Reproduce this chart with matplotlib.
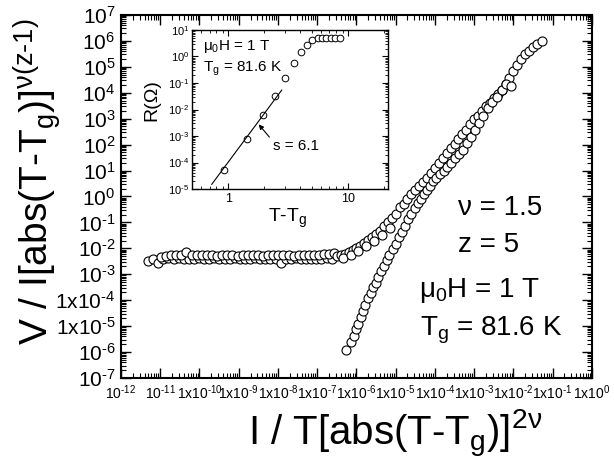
import matplotlib

matplotlib.use("Agg")
import matplotlib.pyplot as plt
import numpy as np
from matplotlib.ticker import FixedLocator, FixedFormatter, LogLocator, NullFormatter

plt.rcParams["font.family"] = "Liberation Sans"
plt.rcParams["mathtext.fontset"] = "custom"
plt.rcParams["mathtext.rm"] = "Liberation Sans"
plt.rcParams["mathtext.it"] = "Liberation Sans:italic"
plt.rcParams["mathtext.bf"] = "Liberation Sans:bold"

# ---------------------------------------------------------------------------
# Data (log10 values)
# ---------------------------------------------------------------------------
# flat part, lower row
flat_a_x = [-11.31, -11.18, -11.05, -10.92, -10.79, -10.66, -10.53, -10.40, -10.27,
            -10.14, -10.01, -9.88, -9.75, -9.62, -9.49, -9.36, -9.23, -9.10, -8.97,
            -8.84, -8.71, -8.58, -8.45, -8.32, -8.19, -8.06, -7.93, -7.80, -7.67,
            -7.54, -7.41, -7.28, -7.15, -7.02, -6.89, -6.76, -6.63]
flat_a_y = [-2.47, -2.43, -2.55, -2.40, -2.38, -2.41, -2.39, -2.40, -2.42, -2.40,
            -2.39, -2.41, -2.40, -2.38, -2.41, -2.40, -2.42, -2.39, -2.40, -2.41,
            -2.40, -2.39, -2.41, -2.40, -2.42, -2.40, -2.55, -2.41, -2.40, -2.39,
            -2.41, -2.40, -2.40, -2.41, -2.40, -2.39, -2.40]
# flat part, upper row
flat_b_x = [-10.98, -10.85, -10.72, -10.59, -10.46, -10.33, -10.20, -10.07, -9.94,
            -9.81, -9.68, -9.55, -9.42, -9.29, -9.16, -9.03, -8.90, -8.77, -8.64,
            -8.51, -8.38, -8.25, -8.12, -7.99, -7.86, -7.73, -7.60, -7.47, -7.34,
            -7.21, -7.08, -6.95, -6.82, -6.69, -6.56]
flat_b_y = [-2.32, -2.28, -2.25, -2.27, -2.24, -2.15, -2.26, -2.27, -2.25, -2.27,
            -2.26, -2.28, -2.27, -2.26, -2.27, -2.28, -2.27, -2.26, -2.27, -2.27,
            -2.28, -2.26, -2.27, -2.27, -2.26, -2.27, -2.28, -2.26, -2.27, -2.26,
            -2.25, -2.24, -2.22, -2.21, -2.19]
# rising part of the upper branch
rise_x = [-6.50, -6.40, -6.30, -6.20, -6.10, -6.00, -5.90, -5.80, -5.70, -5.60,
          -5.50, -5.40, -5.30, -5.20, -5.10, -5.00, -4.90, -4.80, -4.70, -4.60,
          -4.50, -4.40, -4.30, -4.20, -4.10, -4.00, -3.90, -3.80, -3.70, -3.60,
          -3.50, -3.40, -3.30, -3.20, -3.10, -3.00, -2.90, -2.80, -2.70, -2.60,
          -2.50, -2.40, -2.30, -2.20, -2.10, -2.00, -1.90, -1.80, -1.70, -1.60,
          -1.50, -1.40, -1.28,
          -6.35, -6.15, -5.95, -5.75, -5.55, -5.35, -5.15]
rise_y = [-2.30, -2.25, -2.20, -2.14, -2.06, -1.98, -1.90, -1.80, -1.68, -1.56,
          -1.44, -1.32, -1.15, -0.98, -0.82, -0.68, -0.42, -0.30, -0.10, 0.08,
          0.25, 0.42, 0.55, 0.72, 0.90, 1.08, 1.30, 1.50, 1.68, 1.85,
          2.02, 2.20, 2.40, 2.58, 2.78, 2.98, 3.12, 3.28, 3.48, 3.62,
          3.78, 3.95, 4.12, 4.35, 4.58, 4.85, 5.08, 5.28, 5.48, 5.62,
          5.76, 5.88, 6.00,
          -2.36, -2.25, -2.10, -1.92, -1.72, -1.50, -1.22]
# lower branch
low_x = [-6.27, -6.13, -6.06, -6.00, -5.95, -5.89, -5.83, -5.77, -5.71, -5.64,
         -5.57, -5.51, -5.44, -5.37, -5.30, -5.23, -5.16, -5.08, -5.00, -4.92,
         -4.84, -4.76, -4.68, -4.60, -4.52, -4.44, -4.36, -4.28, -4.20, -4.12,
         -4.04, -3.96, -3.87, -3.78, -3.68, -3.58, -3.48, -3.38, -3.28, -3.18,
         -3.08, -2.98, -2.88, -2.78, -2.66, -2.54, -2.42, -2.30, -2.18, -2.05]
low_y = [-5.90, -5.62, -5.38, -5.10, -4.90, -4.66, -4.40, -4.18, -3.92, -3.72,
         -3.50, -3.35, -3.10, -2.88, -2.68, -2.45, -2.25, -2.02, -1.82, -1.58,
         -1.36, -1.12, -0.88, -0.66, -0.45, -0.25, -0.08, 0.08, 0.25, 0.42,
         0.60, 0.72, 0.85, 0.98, 1.12, 1.30, 1.48, 1.65, 1.80, 2.05,
         2.30, 2.55, 2.85, 3.10, 3.40, 3.65, 3.85, 4.10, 4.35, 4.24]

# inset: R vs T-Tg
inset_dt = [0.93, 1.43, 1.95, 2.46, 3.0, 3.53, 4.06, 4.58, 5.0, 5.6, 6.07, 6.6, 7.2, 7.8, 8.5]
inset_r = [5.2e-5, 7.6e-4, 6.0e-3, 3.2e-2, 0.16, 0.57, 1.43, 2.77, 4.2, 4.8, 4.95,
           5.0, 5.0, 5.0, 5.0]
fit_dt = [0.73, 2.8]
fit_r = [1.5e-5, 5.4e-2]

x_exps = list(range(-12, 1))
x_labels = [r"$\text{10}^{\text{-12}}$", r"$\text{10}^{\text{-11}}$"] + \
    [r"$\text{1x10}^{\text{%d}}$" % e if e >= 0 else r"$\text{1x10}^{\text{-%d}}$" % -e
     for e in range(-10, 1)]
y_exps = list(range(-7, 8))
y_labels = []
for e in y_exps:
    s = ("-%d" % -e) if e < 0 else "%d" % e
    pre = "1x10" if e in (-4, -5) else "10"
    y_labels.append(r"$\text{%s}^{\text{%s}}$" % (pre, s))

inset_y_exps = list(range(-5, 2))
inset_y_labels = [r"$\text{10}^{\text{%s}}$" % (("-%d" % -e) if e < 0 else "%d" % e)
                  for e in inset_y_exps]

# ---------------------------------------------------------------------------
fig = plt.figure(figsize=(6.14, 4.65), dpi=100)
ax = fig.add_axes([0.197, 0.187, 0.767, 0.781])

mk = dict(ls="none", marker="o", ms=6.5, mfc="white", mec="black", mew=0.8)
for xs, ys in [(flat_a_x, flat_a_y), (flat_b_x, flat_b_y), (rise_x, rise_y), (low_x, low_y)]:
    ax.plot(10.0 ** np.array(xs), 10.0 ** np.array(ys), **mk)

ax.set_xscale("log")
ax.set_yscale("log")
ax.set_xlim(1e-12, 1)
ax.set_ylim(1e-7, 1e7)
ax.xaxis.set_major_locator(FixedLocator([10.0 ** e for e in x_exps]))
ax.xaxis.set_major_formatter(FixedFormatter(x_labels))
ax.yaxis.set_major_locator(FixedLocator([10.0 ** e for e in y_exps]))
ax.yaxis.set_major_formatter(FixedFormatter(y_labels))
for a in (ax.xaxis, ax.yaxis):
    a.set_minor_locator(LogLocator(base=10, subs=np.arange(2, 10), numticks=40))
    a.set_minor_formatter(NullFormatter())
ax.tick_params(which="both", direction="in", top=True, right=True)
ax.tick_params(which="major", length=7, width=1)
ax.tick_params(which="minor", length=3.5, width=0.8)
ax.tick_params(axis="x", which="major", labelsize=10, pad=4)
ax.tick_params(axis="y", which="major", labelsize=15, pad=4)
for sp in ax.spines.values():
    sp.set_linewidth(1.5)

ax.text(0.7155, 0.449, r"ν = 1.5", transform=ax.transAxes, fontsize=20, va="baseline")
ax.text(0.7155, 0.348, r"z = 5", transform=ax.transAxes, fontsize=20, va="baseline")
ax.text(0.633, 0.224, r"$\text{μ}_{\text{0}}\text{H = 1 T}$", transform=ax.transAxes,
        fontsize=20, va="baseline")
ax.text(0.635, 0.118, r"$\text{T}_{\text{g}}\text{ = 81.6 K}$", transform=ax.transAxes,
        fontsize=20, va="baseline")

fig.text(0.06, 0.61, r"$\text{V / I[abs(T-T}_{\text{g}}\text{)]}^{\text{ν(z-1)}}$",
         rotation=90, ha="center", va="center", fontsize=28)
fig.text(0.643, 0.042, r"$\text{I / T[abs(T-T}_{\text{g}}\text{)]}^{\text{2ν}}$",
         ha="center", va="baseline", fontsize=29)

# ---------------------------------------------------------------------------
# inset
ins = fig.add_axes([0.3127, 0.5935, 0.319, 0.342])
ins.set_facecolor("white")
ins.plot(inset_dt, inset_r, ls="none", marker="o", ms=4.8, mfc="white", mec="black", mew=0.7)
ins.plot(fit_dt, fit_r, color="black", lw=0.8)
ins.set_xscale("log")
ins.set_yscale("log")
ins.set_xlim(0.5, 21.5)
ins.set_ylim(1e-5, 10)
ins.xaxis.set_major_locator(FixedLocator([1, 10]))
ins.xaxis.set_major_formatter(FixedFormatter(["1", "10"]))
ins.yaxis.set_major_locator(FixedLocator([10.0 ** e for e in inset_y_exps]))
ins.yaxis.set_major_formatter(FixedFormatter(inset_y_labels))
for a in (ins.xaxis, ins.yaxis):
    a.set_minor_locator(LogLocator(base=10, subs=np.arange(2, 10), numticks=20))
    a.set_minor_formatter(NullFormatter())
ins.tick_params(which="both", direction="in", top=True, right=True)
ins.tick_params(which="major", length=4, width=0.8, labelsize=8, pad=2)
ins.tick_params(which="minor", length=2, width=0.6)
ins.tick_params(axis="x", which="major", labelsize=9, pad=3)
for sp in ins.spines.values():
    sp.set_linewidth(1.0)

ins.text(0.056, 0.874, r"$\text{μ}_{\text{0}}\text{H = 1 T}$", transform=ins.transAxes,
         fontsize=11, va="baseline")
ins.text(0.056, 0.738, r"$\text{T}_{\text{g}}\text{ = 81.6 K}$", transform=ins.transAxes,
         fontsize=11, va="baseline")
ins.annotate("", xy=(1.80, 2.75e-3), xytext=(2.21, 9.1e-4),
             arrowprops=dict(arrowstyle="-|>", lw=0.8, color="black", mutation_scale=7,
                             shrinkA=0, shrinkB=0))
ins.text(2.37, 4.1e-4, "s = 6.1", fontsize=11, va="center", ha="left")

fig.text(0.248, 0.785, "R(Ω)", rotation=90, ha="center", va="center", fontsize=14)
fig.text(0.469, 0.523, r"$\text{T-T}_{\text{g}}$", ha="center", va="baseline", fontsize=14)

fig.savefig("out.png", dpi=100)
